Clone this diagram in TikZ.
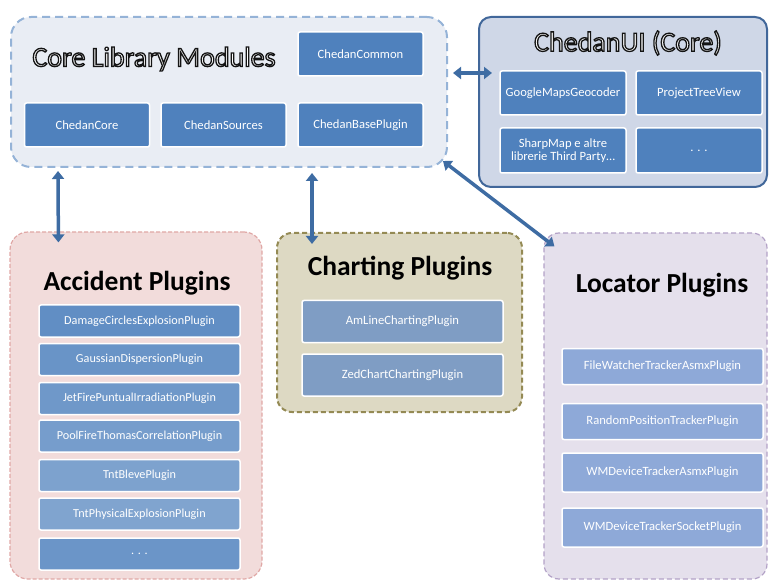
\documentclass[tikz,border=0pt]{standalone}
\usepackage{fontspec}
\setmainfont{Carlito}
\usetikzlibrary{arrows.meta}

\newcommand\outlinetext[1]{\special{pdf:literal direct 2 Tr 1.3 w 0.08 0.08 0.08 RG}#1\special{pdf:literal direct 0 Tr}}

\definecolor{coreFill}{HTML}{E9EDF4}
\definecolor{coreLine}{HTML}{95B3D7}
\definecolor{uiFill}{HTML}{CFD7E7}
\definecolor{uiLine}{HTML}{41679A}
\definecolor{accFill}{HTML}{F2DCDB}
\definecolor{accLine}{HTML}{E0A8A6}
\definecolor{chartFill}{HTML}{DDD9C3}
\definecolor{chartLine}{HTML}{948A54}
\definecolor{locFill}{HTML}{E5E0EC}
\definecolor{locLine}{HTML}{B3A2C7}
\definecolor{modBlue}{HTML}{4F81BD}
\definecolor{chartBlue}{HTML}{7F9DC4}
\definecolor{locBlue}{HTML}{8EA9D8}
\definecolor{arrowBlue}{HTML}{3E6CA3}

\begin{document}
\begin{tikzpicture}[x=1pt,y=-1pt,
  module/.style={draw=white,line width=1.5pt,rounded corners=2pt,text=white,
    font=\fontsize{12.6}{13}\selectfont,align=center,inner sep=1pt},
  coremod/.style={module,fill=modBlue,minimum width=125pt,minimum height=44pt},
  accmod/.style={module,fill=#1,minimum width=201pt,minimum height=32pt,
    font=\fontsize{12.2}{13}\selectfont},
  chartmod/.style={module,fill=chartBlue,minimum width=201pt,minimum height=42pt},
  locmod/.style={module,fill=locBlue,minimum width=201pt,minimum height=36pt},
  outlined/.style={font=\fontsize{28}{30}\selectfont,text=white},
  heading/.style={font=\fontsize{27.5}{30}\selectfont\bfseries},
  biarrow/.style={draw=arrowBlue,line width=3.5pt,
    {Triangle[width=12pt,length=8pt]}-{Triangle[width=12pt,length=8pt]}}
]
\useasboundingbox (0,0) rectangle (769,580);

\node[draw=coreLine,fill=coreFill,line width=2pt,dash pattern=on 8pt off 5pt,
  rounded corners=20pt,minimum width=436pt,minimum height=150pt] (core) at (229,92) {};
\node[outlined] (coreTitle) at (154,59) {\outlinetext{Core Library Modules}};
\node[coremod] (chedanCommon) at (360.5,54) {ChedanCommon};
\node[coremod] (chedanCore) at (87,125) {ChedanCore};
\node[coremod] (chedanSources) at (223.5,125) {ChedanSources};
\node[coremod] (chedanBase) at (360.5,125) {ChedanBasePlugin};

\node[draw=uiLine,fill=uiFill,line width=2pt,rounded corners=12pt,
  minimum width=288pt,minimum height=170pt] (ui) at (623,102) {};
\node[outlined] (uiTitle) at (628,43) {\outlinetext{ChedanUI (Core)}};
\node[coremod,minimum width=126pt] (geocoder) at (563,93) {GoogleMapsGeocoder};
\node[coremod,minimum width=126pt] (treeView) at (699,93) {ProjectTreeView};
\node[coremod,minimum width=126pt,minimum height=45pt] (sharpMap) at (563,150.5)
  {SharpMap e altre\\librerie Third Party\ldots};
\node[coremod,minimum width=126pt,minimum height=45pt] (uiMore) at (699,150.5) {. . .};

\node[draw=accLine,fill=accFill,line width=1.2pt,dash pattern=on 4pt off 2pt,
  rounded corners=18pt,minimum width=252pt,minimum height=347pt] (acc) at (136,405.5) {};
\node[heading] (accTitle) at (137,283) {Accident Plugins};
\node[accmod=modBlue!90!white] (acc1) at (139.5,321) {DamageCirclesExplosionPlugin};
\node[accmod=modBlue!85!white] (acc2) at (139.5,359.5) {GaussianDispersionPlugin};
\node[accmod=modBlue!82!white] (acc3) at (139.5,398.5) {JetFirePuntualIrradiationPlugin};
\node[accmod=modBlue!78!white] (acc4) at (139.5,436) {PoolFireThomasCorrelationPlugin};
\node[accmod=modBlue!74!white] (acc5) at (139.5,475.5) {TntBlevePlugin};
\node[accmod=modBlue!72!white] (acc6) at (139.5,514) {TntPhysicalExplosionPlugin};
\node[accmod=modBlue!84!white] (acc7) at (139.5,554) {. . .};

\node[draw=chartLine,fill=chartFill,line width=2pt,dash pattern=on 5pt off 3pt,
  rounded corners=15pt,minimum width=245pt,minimum height=179pt] (chart) at (399.5,322.5) {};
\node[heading] (chartTitle) at (400,268) {Charting Plugins};
\node[chartmod] (amLine) at (402.5,321.5) {AmLineChartingPlugin};
\node[chartmod] (zedChart) at (402.5,375) {ZedChartChartingPlugin};

\node[draw=locLine,fill=locFill,line width=1.2pt,dash pattern=on 5pt off 3pt,
  rounded corners=15pt,minimum width=223pt,minimum height=346pt] (loc) at (655.5,406) {};
\node[heading] (locTitle) at (662,285) {Locator Plugins};
\node[locmod] (fileWatcher) at (662.5,366.5) {FileWatcherTrackerAsmxPlugin};
\node[locmod] (randomPos) at (662.5,421.5) {RandomPositionTrackerPlugin};
\node[locmod,minimum height=39pt] (wmAsmx) at (662.5,472.5) {WMDeviceTrackerAsmxPlugin};
\node[locmod,minimum height=39pt] (wmSocket) at (662.5,527.5) {WMDeviceTrackerSocketPlugin};

\draw[biarrow] ([xshift=48pt,yshift=-3pt]core.south west) -- ([xshift=49pt,yshift=-11pt]acc.north west);
\draw[biarrow] ([xshift=302pt,yshift=-5pt]core.south west) -- ([xshift=36pt,yshift=-12pt]chart.north west);
\draw[biarrow] ([xshift=5pt,yshift=19pt]core.east) -- ([xshift=14pt,yshift=29pt]ui.west);
\draw[biarrow] ([xshift=-5pt,yshift=7pt]core.south east) -- ([xshift=11pt,yshift=-14pt]loc.north west);
\end{tikzpicture}
\end{document}
